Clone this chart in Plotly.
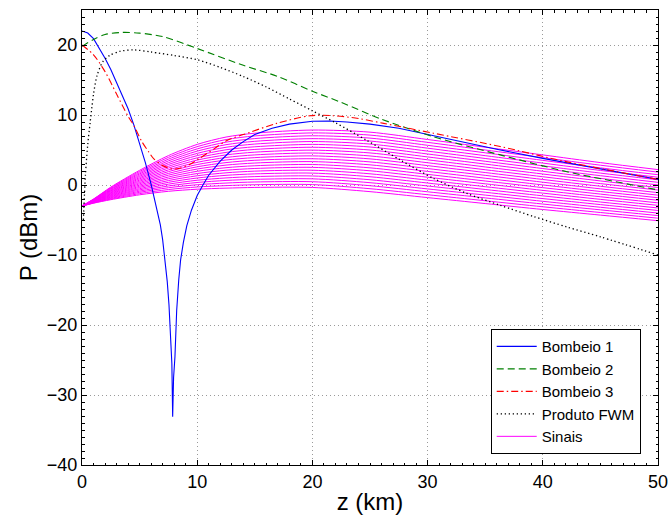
import plotly.graph_objects as go

# ---------------- data ----------------
z_bombeio1 = [0, 0.5, 1.0, 1.5, 2.0, 2.5, 3.0, 3.5, 4.0, 4.5, 5.0, 5.5, 6.0, 6.5, 6.8,
              7.0, 7.2, 7.4, 7.55, 7.7, 7.8, 7.87, 7.95, 8.07, 8.22, 8.4, 8.56, 8.8,
              9.1, 9.5, 10.0, 10.5, 11.0, 12.0, 13.0, 14.0, 15.0, 16.5, 18.0, 20.0,
              21.5, 23.0, 25.0, 27.5, 30.0, 33.0, 36.0, 40.0, 45.0, 50.0]
p_bombeio1 = [22.0, 21.7, 20.9, 19.6, 18.1, 16.5, 14.7, 12.9, 10.9, 8.6, 6.0, 3.2, 0.1,
              -3.3, -5.7, -7.8, -10.5, -13.8, -17.1, -21.3, -25.5, -33.1, -27.5, -24.5,
              -17.9, -13.5, -10.7, -8.2, -5.8, -3.6, -1.5, 0.0, 1.4, 3.4, 5.0, 6.2, 7.2,
              8.1, 8.7, 9.1, 9.15, 9.0, 8.7, 8.1, 7.2, 6.1, 5.1, 3.8, 2.3, 0.8]

z_bombeio2 = [0, 1.0, 2.0, 3.5, 5.0, 7.0, 10.0, 14.0, 17.0, 20.0, 22.5, 26.0, 30.5, 36.3, 42.1, 50.0]
p_bombeio2 = [19.8, 20.8, 21.5, 21.8, 21.7, 21.2, 19.5, 17.1, 15.5, 13.4, 11.8, 9.4, 6.9, 4.3, 1.9, -0.7]

z_bombeio3 = [0, 1.0, 2.0, 3.0, 4.0, 4.5, 5.2, 5.8, 6.2, 7.0, 7.8, 8.5, 9.3, 10.2, 11.5,
              12.5, 14.0, 16.9, 19.8, 21.8, 24.0, 26.2, 30.5, 36.3, 42.1, 50.0]
p_bombeio3 = [20.0, 18.6, 16.2, 13.0, 9.8, 8.5, 6.2, 4.7, 3.8, 2.8, 2.3, 2.4, 2.9, 3.8, 5.2,
              6.3, 7.2, 8.8, 9.9, 9.9, 9.5, 8.8, 7.4, 5.5, 3.3, 0.8]

z_fwm = [0.12, 0.3, 0.5, 0.7, 0.85, 1.0, 1.3, 1.8, 2.4, 3.3, 4.5, 6.0, 8.0, 10.0, 12.0,
         14.0, 16.0, 18.0, 20.0, 22.0, 24.7, 27.6, 30.5, 33.4, 36.3, 39.2, 42.1, 45.0, 50.0]
p_fwm = [-5.0, 1.5, 5.8, 8.8, 11.0, 13.0, 15.6, 17.6, 18.5, 19.1, 19.3, 19.0, 18.5, 17.9,
         16.8, 15.5, 14.0, 12.3, 10.6, 8.9, 6.4, 3.6, 0.95, -1.2, -2.9, -4.5, -6.0, -7.4, -10.0]

z_sinais = [0, 1, 2.5, 5, 7.5, 10, 12.5, 15, 20, 25, 30, 35, 40, 45, 50]
p_sinais = [
    [-3, -2.60, -2.10, -1.40, -0.90, -0.60, -0.45, -0.35, -0.35, -0.95, -1.80, -2.65, -3.50, -4.30, -5.10],
    [-3, -2.57, -2.01, -1.23, -0.65, -0.28, -0.09, 0.04, 0.06, -0.53, -1.39, -2.25, -3.11, -3.93, -4.74],
    [-3, -2.54, -1.92, -1.05, -0.39, 0.04, 0.28, 0.43, 0.47, -0.10, -0.97, -1.84, -2.72, -3.55, -4.37],
    [-3, -2.51, -1.83, -0.88, -0.14, 0.36, 0.65, 0.81, 0.88, 0.33, -0.56, -1.44, -2.33, -3.18, -4.01],
    [-3, -2.48, -1.74, -0.70, 0.12, 0.68, 1.01, 1.20, 1.29, 0.75, -0.14, -1.04, -1.94, -2.80, -3.64],
    [-3, -2.45, -1.65, -0.53, 0.38, 1.00, 1.38, 1.59, 1.70, 1.18, 0.28, -0.64, -1.55, -2.43, -3.28],
    [-3, -2.42, -1.56, -0.35, 0.63, 1.32, 1.74, 1.98, 2.11, 1.60, 0.69, -0.24, -1.16, -2.05, -2.91],
    [-3, -2.39, -1.47, -0.18, 0.89, 1.64, 2.11, 2.36, 2.52, 2.03, 1.11, 0.17, -0.77, -1.68, -2.55],
    [-3, -2.36, -1.38, 0.00, 1.14, 1.96, 2.47, 2.75, 2.93, 2.45, 1.52, 0.57, -0.38, -1.30, -2.18],
    [-3, -2.33, -1.29, 0.18, 1.40, 2.28, 2.84, 3.14, 3.34, 2.88, 1.94, 0.97, 0.01, -0.93, -1.82],
    [-3, -2.30, -1.20, 0.35, 1.65, 2.60, 3.20, 3.53, 3.75, 3.30, 2.35, 1.38, 0.40, -0.55, -1.45],
    [-3, -2.27, -1.11, 0.53, 1.91, 2.92, 3.57, 3.91, 4.16, 3.73, 2.77, 1.78, 0.79, -0.18, -1.09],
    [-3, -2.24, -1.02, 0.70, 2.16, 3.24, 3.93, 4.30, 4.57, 4.15, 3.18, 2.18, 1.18, 0.20, -0.72],
    [-3, -2.21, -0.93, 0.88, 2.42, 3.56, 4.30, 4.69, 4.98, 4.58, 3.60, 2.58, 1.57, 0.58, -0.36],
    [-3, -2.18, -0.84, 1.05, 2.67, 3.88, 4.66, 5.08, 5.39, 5.00, 4.01, 2.99, 1.96, 0.95, 0.01],
    [-3, -2.15, -0.75, 1.23, 2.93, 4.20, 5.03, 5.46, 5.80, 5.43, 4.43, 3.39, 2.35, 1.33, 0.38],
    [-3, -2.12, -0.66, 1.40, 3.18, 4.52, 5.39, 5.85, 6.21, 5.85, 4.84, 3.79, 2.74, 1.70, 0.74],
    [-3, -2.09, -0.57, 1.58, 3.44, 4.84, 5.76, 6.24, 6.62, 6.28, 5.26, 4.19, 3.13, 2.08, 1.11],
    [-3, -2.06, -0.48, 1.75, 3.69, 5.16, 6.12, 6.63, 7.03, 6.70, 5.67, 4.60, 3.52, 2.45, 1.47],
    [-3, -2.03, -0.39, 1.93, 3.95, 5.48, 6.49, 7.01, 7.44, 7.13, 6.09, 5.00, 3.91, 2.83, 1.84],
    [-3, -2.00, -0.30, 2.10, 4.20, 5.80, 6.85, 7.40, 7.85, 7.55, 6.50, 5.40, 4.30, 3.20, 2.20],
]

x_ticks = [0, 10, 20, 30, 40, 50]
y_ticks = [-40, -30, -20, -10, 0, 10, 20]

# ---------------- figure ----------------
FONT = "Liberation Sans, Arial, Helvetica, sans-serif"
fig = go.Figure()

for i, p in enumerate(p_sinais):
    fig.add_trace(go.Scatter(
        x=z_sinais, y=p, mode="lines", name="Sinais",
        line=dict(color="#FF00FF", width=1, shape="spline", smoothing=0.8),
        legendgroup="sinais", showlegend=(i == 0), legendrank=5))

fig.add_trace(go.Scatter(x=z_bombeio1, y=p_bombeio1, mode="lines", name="Bombeio 1",
                         line=dict(color="#0000FF", width=1.1), legendrank=1))
fig.add_trace(go.Scatter(x=z_bombeio2, y=p_bombeio2, mode="lines", name="Bombeio 2",
                         line=dict(color="#008000", width=1.1, dash="7px,4px",
                                   shape="spline", smoothing=0.8), legendrank=2))
fig.add_trace(go.Scatter(x=z_bombeio3, y=p_bombeio3, mode="lines", name="Bombeio 3",
                         line=dict(color="#FF0000", width=1.1, dash="7px,3px,1.5px,3px",
                                   shape="spline", smoothing=0.8), legendrank=3))
fig.add_trace(go.Scatter(x=z_fwm, y=p_fwm, mode="lines", name="Produto FWM",
                         line=dict(color="#000000", width=1.3, dash="1.3px,2.7px",
                                   shape="spline", smoothing=0.8), legendrank=4))

axis_common = dict(
    showline=True, linecolor="black", linewidth=1, mirror="ticks",
    ticks="inside", ticklen=5, tickcolor="black", tickwidth=1,
    showgrid=True, gridcolor="#9a9a9a", gridwidth=1, griddash="1px,3px",
    zeroline=False, automargin=False,
    tickfont=dict(family=FONT, size=18, color="black"),
    minor=dict(ticks="inside", ticklen=2.5, tickcolor="black", showgrid=False),
)

fig.update_layout(
    width=669, height=517,
    margin=dict(l=82, r=11, t=10, b=52),
    paper_bgcolor="white", plot_bgcolor="white",
    font=dict(family=FONT, color="black"),
    showlegend=True,
    legend=dict(x=0.97, y=0.024, xanchor="right", yanchor="bottom",
                bgcolor="white", bordercolor="black", borderwidth=1,
                font=dict(family=FONT, size=15, color="black"),
                tracegroupgap=0, itemwidth=40),
    xaxis=dict(range=[0, 50], tickvals=x_ticks, **axis_common,
               title=dict(text="z (km)", font=dict(family=FONT, size=24), standoff=2)),
    yaxis=dict(range=[-40, 25], tickvals=y_ticks, **axis_common,
               title=dict(text="P (dBm)", font=dict(family=FONT, size=24), standoff=2)),
)
fig.update_xaxes(minor=dict(dtick=1, tick0=0))
fig.update_yaxes(minor=dict(dtick=1, tick0=0))

fig.write_html("out.html")
